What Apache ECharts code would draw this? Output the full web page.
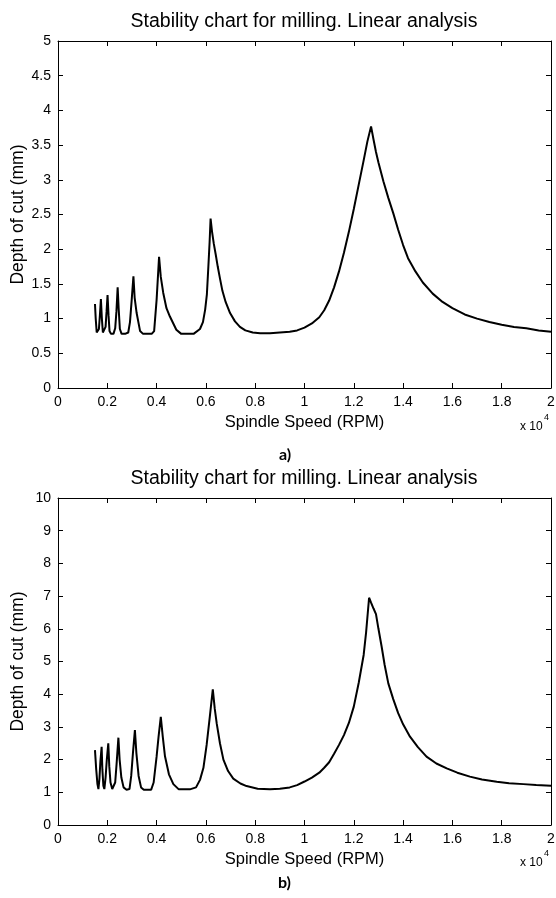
<!DOCTYPE html>
<html>
<head>
<meta charset="utf-8">
<script src="https://cdn.jsdelivr.net/npm/echarts@6.0.0/dist/echarts.min.js"></script>
<style>
  html, body { margin: 0; padding: 0; background: #fff; }
  #chart { width: 556px; height: 898px; }
</style>
</head>
<body>
<div id="chart"></div>
<script>
// Spindle speed in units of 10^4 RPM, depth of cut in mm
const speedA = [0.150, 0.153, 0.157, 0.162, 0.166, 0.170, 0.174, 0.178, 0.182, 0.188, 0.193, 0.197, 0.201, 0.205, 0.209, 0.215, 0.225, 0.232, 0.237, 0.242, 0.246, 0.251, 0.258, 0.272, 0.285, 0.292, 0.299, 0.306, 0.311, 0.319, 0.333, 0.345, 0.380, 0.390, 0.400, 0.405, 0.410, 0.417, 0.427, 0.440, 0.454, 0.480, 0.500, 0.550,
  0.576, 0.588, 0.597, 0.604, 0.610, 0.615, 0.619, 0.625, 0.632, 0.640, 0.648, 0.657, 0.667, 0.680, 0.698, 0.718, 0.738, 0.760, 0.790, 0.820,
  0.860, 0.900, 0.940, 0.970, 1.000, 1.030, 1.060, 1.080, 1.100, 1.120, 1.140, 1.160, 1.180, 1.200, 1.220, 1.240, 1.255, 1.270,
  1.280, 1.290, 1.300, 1.320, 1.340, 1.360, 1.380, 1.400, 1.420, 1.450, 1.480, 1.520, 1.560, 1.600, 1.650, 1.700, 1.750, 1.800, 1.850, 1.900, 1.950, 2.000];
const depthA = [1.21, 1.00, 0.80, 0.78, 0.85, 1.05, 1.28, 1.00, 0.80, 0.78, 0.88, 1.10, 1.34, 1.05, 0.82, 0.78, 0.78, 0.86, 1.10, 1.45, 1.15, 0.85, 0.78, 0.78, 0.80, 0.95, 1.27, 1.61, 1.30, 1.08, 0.82, 0.78, 0.78, 0.82, 1.27, 1.58, 1.89, 1.60, 1.37, 1.15, 1.03, 0.84, 0.78, 0.78,
  0.85, 0.95, 1.13, 1.35, 1.75, 2.10, 2.44, 2.25, 2.08, 1.92, 1.75, 1.58, 1.40, 1.24, 1.08, 0.96, 0.88, 0.83, 0.80, 0.79,
  0.79, 0.80, 0.81, 0.83, 0.87, 0.93, 1.02, 1.12, 1.26, 1.45, 1.68, 1.95, 2.25, 2.58, 2.93, 3.28, 3.55, 3.77,
  3.58, 3.40, 3.25, 2.98, 2.74, 2.52, 2.28, 2.06, 1.87, 1.68, 1.52, 1.36, 1.24, 1.15, 1.06, 1.00, 0.95, 0.91, 0.88, 0.86, 0.83, 0.81];

const speedB = [0.150, 0.155, 0.160, 0.164, 0.168, 0.172, 0.177, 0.180, 0.184, 0.188, 0.193, 0.198, 0.204, 0.208, 0.213, 0.220, 0.226, 0.232, 0.238, 0.245, 0.250, 0.257, 0.266, 0.278, 0.290, 0.297, 0.304, 0.312, 0.318, 0.327, 0.337, 0.348, 0.378, 0.388, 0.400, 0.408, 0.417, 0.425, 0.434, 0.450, 0.468, 0.490, 0.535,
  0.560, 0.576, 0.590, 0.603, 0.615, 0.628, 0.636, 0.644, 0.657, 0.671, 0.690, 0.711, 0.740, 0.765, 0.810,
  0.860, 0.900, 0.940, 0.970, 1.000, 1.030, 1.060, 1.080, 1.100, 1.120, 1.140, 1.160, 1.180, 1.200, 1.220, 1.240, 1.250, 1.262,
  1.270, 1.280, 1.290, 1.300, 1.313, 1.325, 1.340, 1.360, 1.380, 1.400, 1.428, 1.460, 1.495, 1.535, 1.577, 1.620, 1.671, 1.720, 1.780, 1.830, 1.888, 1.940, 2.000];
const depthB = [2.29, 1.70, 1.25, 1.10, 1.40, 1.95, 2.39, 1.70, 1.20, 1.10, 1.45, 2.00, 2.50, 1.80, 1.30, 1.10, 1.08, 1.30, 1.90, 2.67, 2.00, 1.45, 1.15, 1.08, 1.10, 1.50, 2.20, 2.90, 2.20, 1.50, 1.15, 1.08, 1.08, 1.30, 2.09, 2.70, 3.31, 2.70, 2.10, 1.55, 1.25, 1.09, 1.09,
  1.15, 1.38, 1.75, 2.45, 3.25, 4.15, 3.55, 3.10, 2.50, 2.00, 1.65, 1.42, 1.27, 1.19, 1.11,
  1.09, 1.11, 1.15, 1.22, 1.33, 1.45, 1.60, 1.75, 1.92, 2.18, 2.45, 2.75, 3.12, 3.62, 4.35, 5.20, 5.90, 6.95,
  6.80, 6.62, 6.45, 6.00, 5.45, 4.90, 4.33, 3.85, 3.42, 3.08, 2.70, 2.38, 2.09, 1.88, 1.73, 1.60, 1.48, 1.39, 1.32, 1.28, 1.25, 1.22, 1.20];

const titleText = 'Stability chart for milling. Linear analysis';
const xName = 'Spindle Speed (RPM)';
const yName = 'Depth of cut (mm)';
const panelLabels = ['a)', 'b)'];

const FONT = '"Liberation Sans", Arial, sans-serif';
const chart = echarts.init(document.getElementById('chart'));

const grids = [
  { left: 58, top: 41, width: 493, height: 347, outerBoundsMode: 'none' },
  { left: 58, top: 498, width: 493, height: 327, outerBoundsMode: 'none' }
];
const yMax = [5, 10];
const yStep = [0.5, 1];

const xAxes = [];
const yAxes = [];
grids.forEach((g, i) => {
  const tick = { show: true, inside: true, length: 5, lineStyle: { color: '#000' } };
  const line = { show: true, onZero: false, lineStyle: { color: '#000', width: 1 } };
  xAxes.push({
    type: 'value', gridIndex: i, position: 'bottom', min: 0, max: 2, interval: 0.2,
    axisLine: line, axisTick: tick, splitLine: { show: false },
    axisLabel: { color: '#000', fontSize: 14, fontFamily: FONT, margin: 7 },
    name: xName, nameLocation: 'middle', nameGap: 26, nameMoveOverlap: false,
    nameTextStyle: { color: '#000', fontSize: 16.5, fontFamily: FONT }
  });
  xAxes.push({
    type: 'value', gridIndex: i, position: 'top', min: 0, max: 2, interval: 0.2,
    axisLine: line, axisTick: tick, splitLine: { show: false }, axisLabel: { show: false }
  });
  yAxes.push({
    type: 'value', gridIndex: i, position: 'left', min: 0, max: yMax[i], interval: yStep[i],
    axisLine: line, axisTick: tick, splitLine: { show: false },
    axisLabel: { color: '#000', fontSize: 14, fontFamily: FONT, margin: 7 },
    name: yName, nameLocation: 'middle', nameGap: 31, nameMoveOverlap: false,
    nameTextStyle: { color: '#000', fontSize: 17.5, fontFamily: FONT }
  });
  yAxes.push({
    type: 'value', gridIndex: i, position: 'right', min: 0, max: yMax[i], interval: yStep[i],
    axisLine: line, axisTick: tick, splitLine: { show: false }, axisLabel: { show: false }
  });
});

const toPairs = (xs, ys) => xs.map((x, k) => [x, ys[k]]);

const titleStyle = { text: titleText, fontSize: 19.5, fontFamily: FONT, fill: '#000', textAlign: 'center' };

const option = {
  backgroundColor: '#fff',
  animation: false,
  grid: grids,
  xAxis: xAxes,
  yAxis: yAxes,
  series: [
    { type: 'line', xAxisIndex: 0, yAxisIndex: 0, data: toPairs(speedA, depthA),
      showSymbol: false, lineStyle: { color: '#000', width: 2 } },
    { type: 'line', xAxisIndex: 2, yAxisIndex: 2, data: toPairs(speedB, depthB),
      showSymbol: false, lineStyle: { color: '#000', width: 2 } }
  ],
  graphic: [
    { type: 'text', x: 304, y: 12, style: titleStyle },
    { type: 'text', x: 304, y: 469, style: titleStyle },
    { type: 'text', left: 520, top: 421, style: { text: 'x 10', fontSize: 12, fontFamily: FONT, fill: '#000' } },
    { type: 'text', left: 544, top: 413, style: { text: '4', fontSize: 9, fontFamily: FONT, fill: '#000' } },
    { type: 'text', left: 520, top: 857, style: { text: 'x 10', fontSize: 12, fontFamily: FONT, fill: '#000' } },
    { type: 'text', left: 544, top: 849, style: { text: '4', fontSize: 9, fontFamily: FONT, fill: '#000' } },
    { type: 'text', left: 279, top: 447, style: { text: panelLabels[0], fontSize: 16, fontWeight: 'bold', fontFamily: 'Lato, sans-serif', fill: '#000' } },
    { type: 'text', left: 278, top: 875, style: { text: panelLabels[1], fontSize: 16, fontWeight: 'bold', fontFamily: 'Lato, sans-serif', fill: '#000' } }
  ]
};

chart.setOption(option);
</script>
</body>
</html>
